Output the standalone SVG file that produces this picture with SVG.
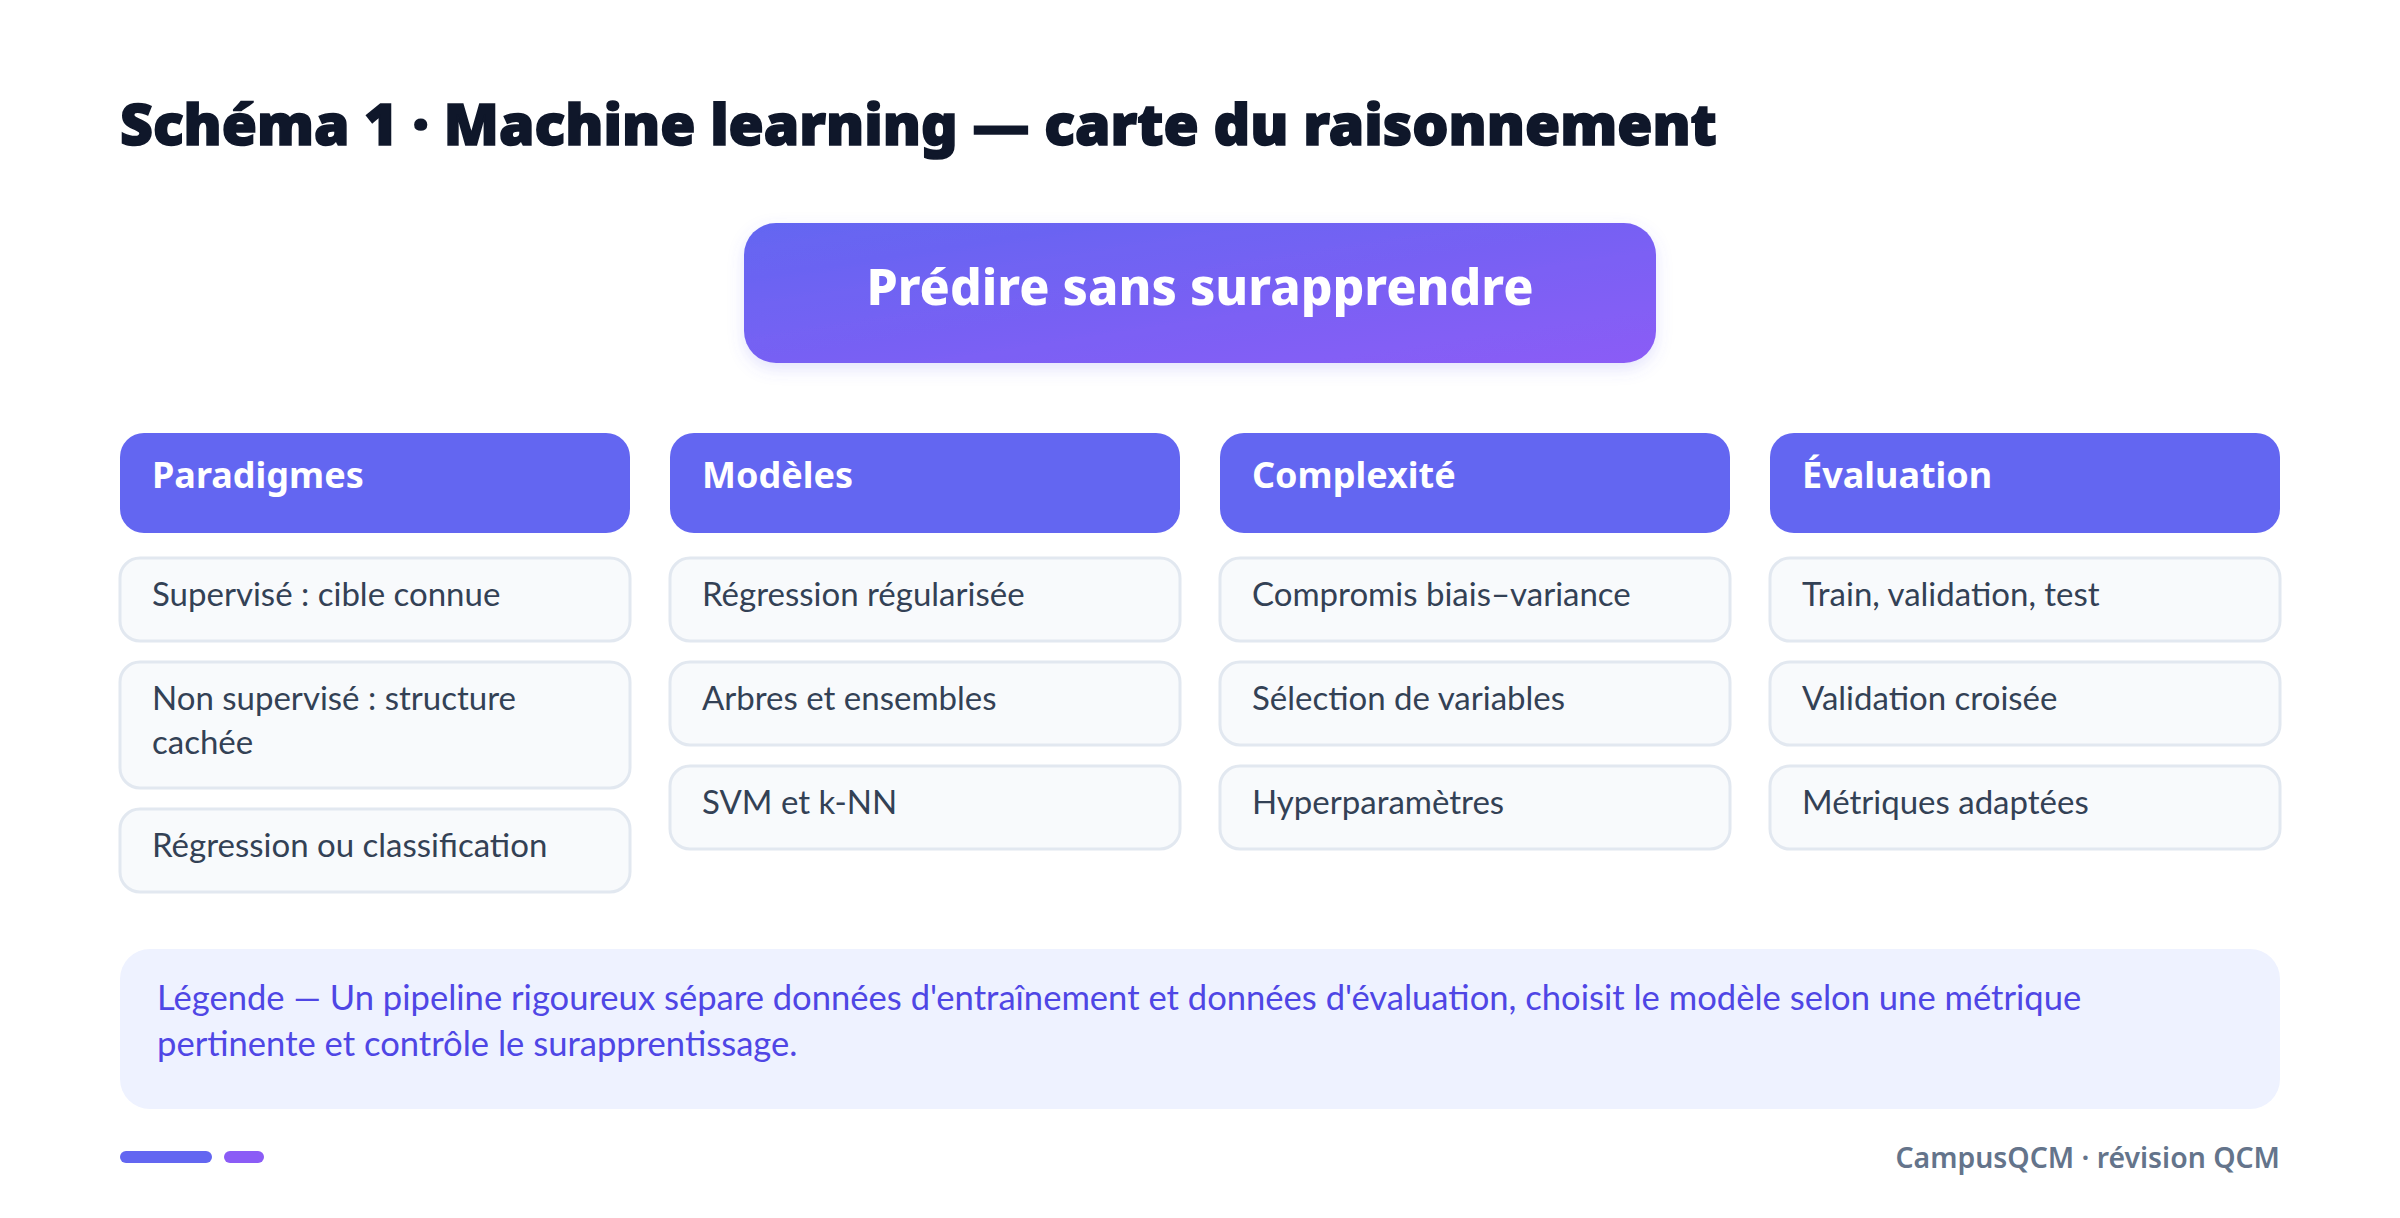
<svg xmlns="http://www.w3.org/2000/svg" width="2400" height="1218" viewBox="0 0 2400 1218">
<defs>
<linearGradient id="g1" x1="0" y1="0" x2="1" y2="1">
<stop offset="0" stop-color="#6366f1"/>
<stop offset="1" stop-color="#8b5cf6"/>
</linearGradient>
<filter id="sh" x="-10%" y="-20%" width="120%" height="150%">
<feDropShadow dx="0" dy="6" stdDeviation="8" flood-color="#6366f1" flood-opacity="0.18"/>
</filter>
<style>
.title{font-family:"Noto Sans","Open Sans",sans-serif;font-weight:900;font-size:57px;fill:#0f172a;stroke:#0f172a;stroke-width:1.6}
.main{font-family:"Noto Sans","Open Sans",sans-serif;font-weight:800;font-size:50px;fill:#ffffff}
.hdr{fill:#6366f1}
.hdrt{font-family:"Noto Sans","Open Sans",sans-serif;font-weight:700;font-size:36px;fill:#ffffff}
.item{fill:#f8fafc;stroke:#e2e8f0;stroke-width:3}
.itemt{font-family:Lato,"Open Sans",sans-serif;font-size:33px;fill:#334155}
.leg{fill:#eef2ff}
.legt{font-family:Lato,"Open Sans",sans-serif;font-size:34.6px;fill:#4f46e5}
.foot{font-family:"Noto Sans","Open Sans",sans-serif;font-weight:600;font-size:28.4px;fill:#64748b}
</style>
</defs>
<rect width="2400" height="1218" fill="#ffffff"/>
<text class="title" x="120" y="145">Schéma 1 · Machine learning — carte du raisonnement</text>

<g id="root">
<rect x="744" y="223" width="912" height="140" rx="32" fill="url(#g1)" filter="url(#sh)"/>
<text class="main" x="1200" y="305" text-anchor="middle">Prédire sans surapprendre</text>
</g>

<g id="connectors"></g>

<g id="col-paradigmes">
<rect class="hdr" x="120" y="433" width="510" height="100" rx="24"/>
<text class="hdrt" x="152" y="488">Paradigmes</text>
</g>
<g id="p1"><rect class="item" x="120" y="558" width="510" height="83" rx="20"/><text class="itemt" x="152" y="606">Supervisé : cible connue</text></g>
<g id="p2"><rect class="item" x="120" y="662" width="510" height="126" rx="20"/><text class="itemt" x="152" y="710">Non supervisé : structure</text><text class="itemt" x="152" y="754">cachée</text></g>
<g id="p3"><rect class="item" x="120" y="809" width="510" height="83" rx="20"/><text class="itemt" x="152" y="857">Régression ou classification</text></g>

<g id="col-modeles">
<rect class="hdr" x="670" y="433" width="510" height="100" rx="24"/>
<text class="hdrt" x="702" y="488">Modèles</text>
</g>
<g id="m1"><rect class="item" x="670" y="558" width="510" height="83" rx="20"/><text class="itemt" x="702" y="606">Régression régularisée</text></g>
<g id="m2"><rect class="item" x="670" y="662" width="510" height="83" rx="20"/><text class="itemt" x="702" y="710">Arbres et ensembles</text></g>
<g id="m3"><rect class="item" x="670" y="766" width="510" height="83" rx="20"/><text class="itemt" x="702" y="814">SVM et k-NN</text></g>

<g id="col-complexite">
<rect class="hdr" x="1220" y="433" width="510" height="100" rx="24"/>
<text class="hdrt" x="1252" y="488">Complexité</text>
</g>
<g id="c1"><rect class="item" x="1220" y="558" width="510" height="83" rx="20"/><text class="itemt" x="1252" y="606">Compromis biais–variance</text></g>
<g id="c2"><rect class="item" x="1220" y="662" width="510" height="83" rx="20"/><text class="itemt" x="1252" y="710">Sélection de variables</text></g>
<g id="c3"><rect class="item" x="1220" y="766" width="510" height="83" rx="20"/><text class="itemt" x="1252" y="814">Hyperparamètres</text></g>

<g id="col-evaluation">
<rect class="hdr" x="1770" y="433" width="510" height="100" rx="24"/>
<text class="hdrt" x="1802" y="488">Évaluation</text>
</g>
<g id="e1"><rect class="item" x="1770" y="558" width="510" height="83" rx="20"/><text class="itemt" x="1802" y="606">Train, validation, test</text></g>
<g id="e2"><rect class="item" x="1770" y="662" width="510" height="83" rx="20"/><text class="itemt" x="1802" y="710">Validation croisée</text></g>
<g id="e3"><rect class="item" x="1770" y="766" width="510" height="83" rx="20"/><text class="itemt" x="1802" y="814">Métriques adaptées</text></g>

<g id="legend">
<rect class="leg" x="120" y="949" width="2160" height="160" rx="30"/>
<text class="legt" x="157" y="1010">Légende — Un pipeline rigoureux sépare données d'entraînement et données d'évaluation, choisit le modèle selon une métrique</text>
<text class="legt" x="157" y="1056">pertinente et contrôle le surapprentissage.</text>
</g>

<g id="footer">
<rect x="120" y="1151" width="92" height="12" rx="6" fill="#6366f1"/>
<rect x="224" y="1151" width="40" height="12" rx="6" fill="#8b5cf6"/>
<text class="foot" x="2280" y="1168" text-anchor="end">CampusQCM · révision QCM</text>
</g>
</svg>
